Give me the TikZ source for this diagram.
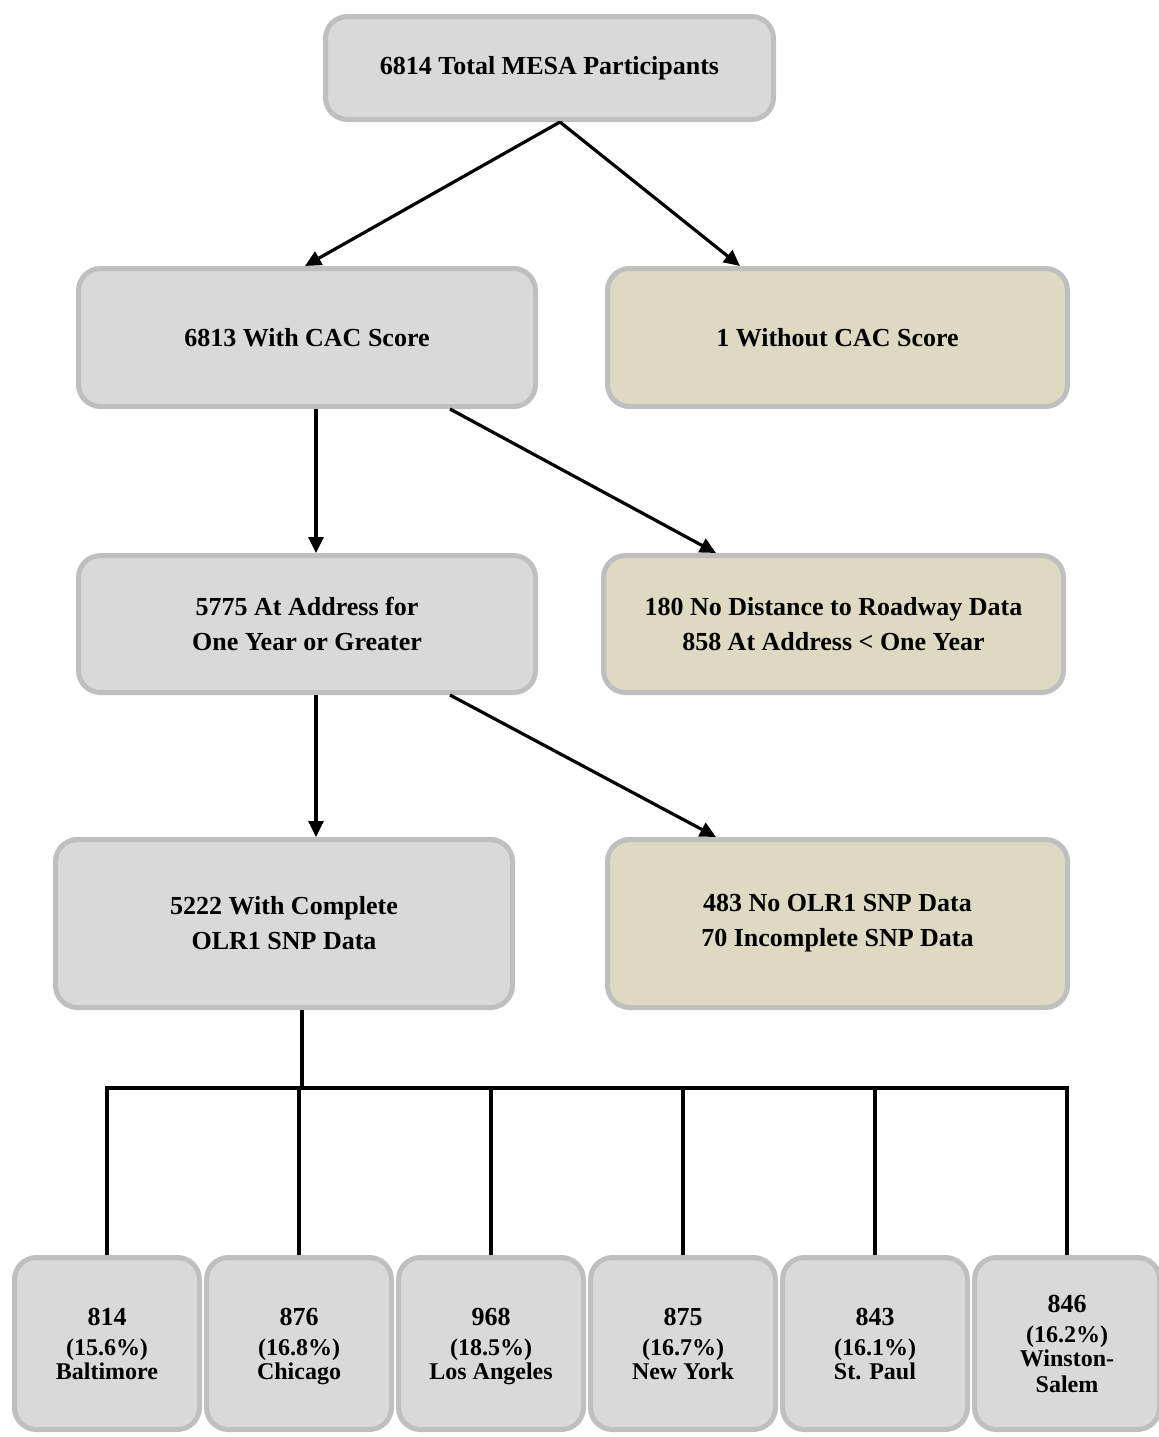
\documentclass[tikz,border=0pt]{standalone}
\usepackage{fontspec}
\setmainfont{Liberation Serif}
\usepackage{xcolor}
\usetikzlibrary{arrows.meta}
\definecolor{boxgray}{HTML}{D9D9D9}
\definecolor{boxtan}{HTML}{DDD9C3}
\definecolor{boxedge}{HTML}{BFBFBF}
\tikzset{
  flowbox/.style={draw=boxedge,line width=2.5pt,fill=boxgray,rounded corners=11pt,
    align=center,inner sep=2pt,font=\bfseries\fontsize{13}{17.5}\selectfont},
  exclbox/.style={flowbox,fill=boxtan},
  sitebox/.style={flowbox,minimum width=92.5pt,minimum height=86pt,text depth=0pt,
    font=\bfseries\fontsize{12}{12}\selectfont},
  flowline/.style={line width=1.6pt,black},
  flowarrow/.style={flowline,-{Triangle[length=8pt,width=7.5pt]}}
}
\begin{document}
\begin{tikzpicture}[x=0.5pt,y=0.5pt,yscale=-1,xscale=1]
        \useasboundingbox (0,0) rectangle (1159,1437);
        \node [flowbox,minimum width=224pt,minimum height=51.5pt] (total) at (549.5,68) {6814 Total MESA Participants};
        \node [flowbox,minimum width=228.5pt,minimum height=69pt] (cac) at (307,337.5) {6813 With CAC Score};
        \node [exclbox,minimum width=230pt,minimum height=69pt] (nocac) at (837.5,337.5) {1 Without CAC Score};
        \node [flowbox,minimum width=228.5pt,minimum height=68.5pt] (addr) at (307,624) {5775 At Address for\\One Year or Greater};
        \node [exclbox,minimum width=230pt,minimum height=68.5pt] (noaddr) at (833.5,624) {180 No Distance to Roadway Data\\858 At Address < One Year};
        \node [flowbox,minimum width=228.5pt,minimum height=84pt] (snp) at (284,923.5) {5222 With Complete\\OLR1 SNP Data};
        \node [exclbox,minimum width=230pt,minimum height=84pt] (nosnp) at (837.5,923.5) {483 No OLR1 SNP Data\\70 Incomplete SNP Data};

        \node [sitebox] (site1) at (107,1343.5) {{\fontsize{13}{12}\selectfont 814}\\[3pt](15.6\%)\\Baltimore};
        \node [sitebox] (site2) at (299,1343.5) {{\fontsize{13}{12}\selectfont 876}\\[3pt](16.8\%)\\Chicago};
        \node [sitebox] (site3) at (491,1343.5) {{\fontsize{13}{12}\selectfont 968}\\[3pt](18.5\%)\\Los Angeles};
        \node [sitebox] (site4) at (683,1343.5) {{\fontsize{13}{12}\selectfont 875}\\[3pt](16.7\%)\\New York};
        \node [sitebox] (site5) at (875,1343.5) {{\fontsize{13}{12}\selectfont 843}\\[3pt](16.1\%)\\St. Paul};
        \node [sitebox] (site6) at (1067,1343.5) {{\fontsize{13}{12}\selectfont 846}\\[3pt](16.2\%)\\Winston-\\[1pt]Salem};

        \draw [flowarrow] ([xshift=5.25pt]total.south) -- ([xshift=-1pt]cac.north);
        \draw [flowarrow] ([xshift=5.25pt]total.south) -- ([xshift=-48.75pt]nocac.north);
        \draw [flowarrow] ([xshift=4.5pt]cac.south) -- ([xshift=4.5pt]addr.north);
        \draw [flowarrow] ([xshift=71.5pt]cac.south) -- ([xshift=-58.75pt]noaddr.north);
        \draw [flowarrow] ([xshift=4.5pt]addr.south) -- ([xshift=16pt]snp.north);
        \draw [flowarrow] ([xshift=71.5pt]addr.south) -- ([xshift=-60.75pt]nosnp.north);

        \coordinate (split) at (302,1088);
        \draw [flowline] ([xshift=9pt]snp.south) -- (split);
        \draw [flowline,line cap=rect] (site1.north |- split) -- (site6.north |- split);
        \foreach \i in {1,...,6}
          \draw [flowline] (site\i.north |- split) -- (site\i.north);
\end{tikzpicture}
\end{document}
